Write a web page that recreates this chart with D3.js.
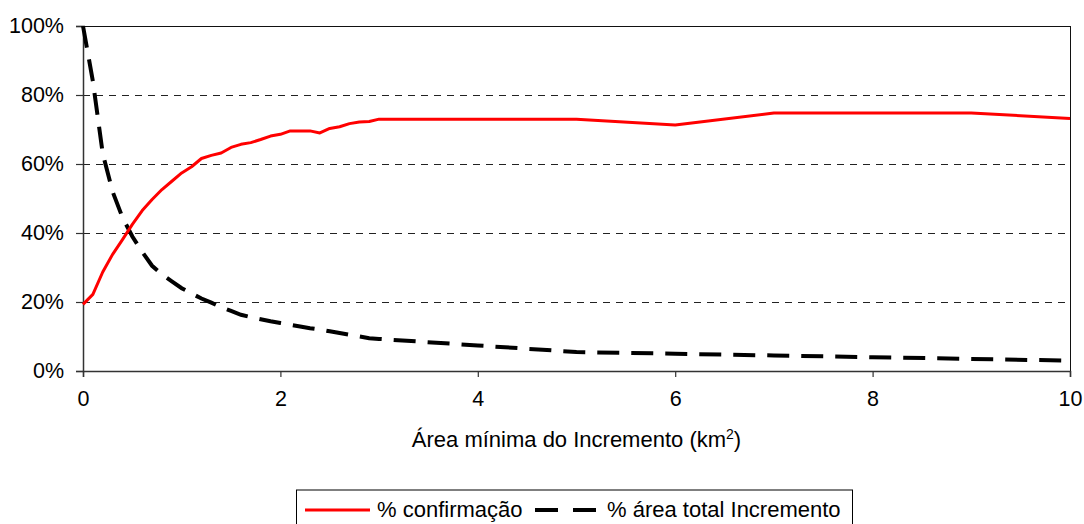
<!DOCTYPE html>
<html>
<head>
<meta charset="utf-8">
<script src="https://cdn.jsdelivr.net/npm/d3@7"></script>
<style>
  body { margin: 0; background: #fff; }
  text { font-family: "Liberation Sans", Arial, sans-serif; fill: #000; }
</style>
</head>
<body>
<div id="chart"></div>
<script>
// data
var areaMinima = [0, 0.1, 0.2, 0.3, 0.4, 0.5, 0.6, 0.7, 0.8, 0.9,
                  1.0, 1.1, 1.2, 1.3, 1.4, 1.5, 1.6, 1.7, 1.8, 1.9,
                  2.0, 2.1, 2.2, 2.3, 2.4, 2.5, 2.6, 2.7, 2.8, 2.9,
                  3, 4, 5, 6, 7, 8, 9, 10];
var confirmacao = [19.3, 22.2, 28.7, 33.8, 38.1, 42.5, 46.5, 49.7, 52.6, 55.0,
                   57.4, 59.2, 61.6, 62.5, 63.2, 64.8, 65.7, 66.2, 67.1, 68.1,
                   68.6, 69.6, 69.6, 69.6, 69.0, 70.3, 70.8, 71.7, 72.2, 72.3,
                   73.0, 73.0, 73.0, 71.3, 74.8, 74.8, 74.8, 73.2];
var areaTotal = [100, 84, 63, 52, 44.5, 39, 34.5, 30.5, 28, 26,
                 24, 22.5, 21, 19.8, 18.5, 17.4, 16.3, 15.6, 15.0, 14.4,
                 13.9, 13.4, 12.9, 12.4, 12.0, 11.5, 11.0, 10.5, 10.0, 9.5,
                 9.3, 7.4, 5.5, 5.0, 4.5, 4.0, 3.5, 3.0];
var xTicks = [0, 2, 4, 6, 8, 10];
var yTicks = [0, 20, 40, 60, 80, 100];
var seriesNames = ["% confirmação", "% área total Incremento"];

// set the dimensions and margins of the graph
var margin = {top: 26, right: 14, bottom: 153, left: 83},
    width = 1084 - margin.left - margin.right,
    height = 524 - margin.top - margin.bottom;

var svg = d3.select("#chart")
  .append("svg")
    .attr("width", 1084)
    .attr("height", 524)
  .append("g")
    .attr("transform", "translate(" + margin.left + "," + margin.top + ")");

var x = d3.scaleLinear().domain([0, 10]).range([0, width]);
var y = d3.scaleLinear().domain([0, 100]).range([height, 0]);

// dashed gridlines
svg.append("g")
  .selectAll("line")
  .data(yTicks.filter(function(d) { return d > 0 && d < 100; }))
  .enter()
  .append("line")
    .attr("x1", 0)
    .attr("x2", width)
    .attr("y1", function(d) { return y(d); })
    .attr("y2", function(d) { return y(d); })
    .style("stroke", "#222")
    .style("stroke-width", 1)
    .style("shape-rendering", "crispEdges")
    .style("stroke-dasharray", "7,6");

// top and right frame
svg.append("path")
  .attr("d", "M0," + y(100) + "H" + width + "V" + height)
  .style("fill", "none")
  .style("stroke", "#111")
  .style("stroke-width", 1)
  .style("shape-rendering", "crispEdges");

// X axis
var xAxis = svg.append("g")
  .attr("transform", "translate(0," + height + ")")
  .call(d3.axisBottom(x).tickValues(xTicks).tickSize(6).tickPadding(14).tickFormat(d3.format("d")));

// Y axis
var yAxis = svg.append("g")
  .call(d3.axisLeft(y).tickValues(yTicks).tickSize(7).tickPadding(12).tickFormat(function(d) { return d + "%"; }));

[xAxis, yAxis].forEach(function(a) {
  a.select(".domain").style("stroke", "#333").style("stroke-width", 1.5);
  a.selectAll(".tick line").style("stroke", "#333").style("stroke-width", 1.2);
  a.selectAll("text").style("font-size", "21.5px").style("font-family", "Liberation Sans, Arial, sans-serif");
});

// text label for the x axis
var xlabel = svg.append("text")
  .attr("x", width / 2)
  .attr("y", height + 76)
  .style("text-anchor", "middle")
  .style("font-size", "22px");
xlabel.append("tspan").text("Área mínima do Incremento (km");
xlabel.append("tspan").attr("dy", -8).style("font-size", "14px").text("2");
xlabel.append("tspan").attr("dy", 8).text(")");

// lines
var line = function(vals) {
  return d3.line()
    .x(function(d, i) { return x(areaMinima[i]); })
    .y(function(d) { return y(d); })(vals);
};

svg.append("path")
  .attr("d", line(areaTotal))
  .style("fill", "none")
  .style("stroke", "#000")
  .style("stroke-width", 4)
  .style("stroke-dasharray", "22,12");

svg.append("path")
  .attr("d", line(confirmacao))
  .style("fill", "none")
  .style("stroke", "#ff0000")
  .style("stroke-width", 3)
  .style("stroke-linejoin", "round");

// legend
var legend = d3.select("svg").append("g");
legend.append("rect")
  .attr("x", 296.5)
  .attr("y", 490)
  .attr("width", 556)
  .attr("height", 50)
  .style("fill", "#fff")
  .style("stroke", "#000")
  .style("stroke-width", 1);

legend.append("line")
  .attr("x1", 305).attr("x2", 370)
  .attr("y1", 510).attr("y2", 510)
  .style("stroke", "#ff0000")
  .style("stroke-width", 3);
legend.append("text")
  .attr("x", 377).attr("y", 517)
  .style("font-size", "22px")
  .text(seriesNames[0]);

legend.append("line")
  .attr("x1", 535).attr("x2", 597)
  .attr("y1", 510).attr("y2", 510)
  .style("stroke", "#000")
  .style("stroke-width", 4)
  .style("stroke-dasharray", "23,15");
legend.append("text")
  .attr("x", 607).attr("y", 517)
  .style("font-size", "22px")
  .text(seriesNames[1]);
</script>
</body>
</html>
